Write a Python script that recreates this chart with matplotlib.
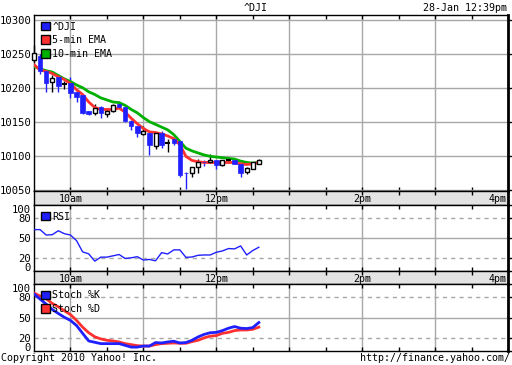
import numpy as np
import matplotlib
matplotlib.use("Agg")
import matplotlib.pyplot as plt
from matplotlib.patches import Patch

plt.rcParams['font.family'] = ['DejaVu Sans Mono']
plt.rcParams['font.size'] = 7.2

# 5-minute candles from 9:30 (minutes after open)
minutes = np.arange(38) * 5
opens = [10241, 10246, 10224, 10209, 10216, 10206, 10207, 10194, 10190, 10165,
         10163, 10172, 10162, 10165, 10176, 10171, 10151, 10143, 10132, 10134,
         10114, 10134, 10119, 10124, 10121, 10075, 10074, 10084, 10091, 10090,
         10093, 10086, 10094, 10094, 10087, 10076, 10081, 10088]
highs = [10263, 10250, 10226, 10219, 10218, 10210, 10216, 10196, 10191, 10166,
         10176, 10173, 10170, 10176, 10180, 10172, 10152, 10144, 10143, 10136,
         10135, 10137, 10124, 10128, 10122, 10076, 10084, 10095, 10093, 10103,
         10094, 10094, 10097, 10095, 10088, 10084, 10091, 10095]
lows = [10238, 10220, 10193, 10194, 10194, 10198, 10185, 10179, 10162, 10160,
        10160, 10156, 10157, 10164, 10170, 10150, 10138, 10128, 10131, 10101,
        10110, 10112, 10106, 10115, 10068, 10051, 10068, 10074, 10085, 10089,
        10081, 10085, 10089, 10087, 10068, 10073, 10080, 10087]
closes = [10251, 10224, 10207, 10215, 10203, 10206, 10192, 10187, 10163, 10162,
          10170, 10163, 10166, 10175, 10171, 10151, 10143, 10134, 10137, 10115,
          10134, 10115, 10119, 10119, 10072, 10074, 10084, 10091, 10090, 10093,
          10086, 10093, 10094, 10087, 10075, 10082, 10090, 10093]

ema5 = [10234, 10226, 10224, 10221, 10216, 10212, 10206, 10197, 10190, 10179,
        10171, 10168, 10168, 10168, 10170, 10164, 10155, 10147, 10140, 10135,
        10134, 10132, 10129, 10125, 10116, 10099, 10093, 10091, 10090, 10090,
        10090, 10090, 10090, 10090, 10088, 10087, 10088, 10090]
ema10 = [10231, 10228, 10225, 10223, 10218, 10213, 10209, 10204, 10200, 10194,
         10190, 10185, 10182, 10179, 10178, 10174, 10168, 10163, 10156, 10150,
         10146, 10142, 10138, 10131, 10121, 10111, 10107, 10104, 10101, 10099,
         10098, 10097, 10096, 10095, 10092, 10090, 10089, 10090]

rsi = [62.7, 62.7, 54.5, 55, 61, 56.5, 54.5, 46, 29, 26,
       15, 21, 21, 23, 25, 19, 20, 21.7, 16.6, 17.5,
       15.5, 27.8, 25.8, 32, 32, 20.7, 21.2, 23.8, 24.3, 24.3,
       28.4, 30.4, 34, 33.5, 38, 24.3, 31, 36]

stoch_k = [85, 77.5, 70, 62, 56, 50.3, 45.7, 38, 26.4, 15,
           13, 11, 11, 11, 11, 8.4, 5.8, 5.8, 7.4, 7.4,
           12.6, 12, 13.5, 14.6, 12, 12.6, 16, 21, 24.8, 27.3,
           27.8, 30.4, 34, 36.5, 34, 33.5, 35, 42.5]
stoch_d = [86.6, 82, 78, 71, 66, 60, 54.4, 45.7, 35.6, 27.3,
           21.2, 18, 16, 15, 13.5, 11, 9.5, 8, 7.4, 7.4,
           9.5, 11, 11.5, 12, 11.5, 11.5, 14, 16, 19.6, 22.2,
           23, 26.4, 27.8, 30.4, 31.4, 31.4, 32.4, 35.6]

price_ticks = [10050, 10100, 10150, 10200, 10250, 10300]
osc_ticks = [0, 20, 50, 80, 100]
hour_ticks = [30, 90, 150, 210, 270, 330]
half_ticks = [60, 120, 180, 240, 300, 360]
time_labels = ['10am', '12pm', '2pm', '4pm']
time_label_pos = [30, 150, 270, 390]

BLUE = '#2020ff'
RED = '#ff3030'
GREEN = '#00b000'
GRID = '#a8a8a8'

W, H = 512, 365
fig = plt.figure(figsize=(W / 100, H / 100), dpi=100)


def px_axes(top, bottom, left=34, right=508):
    return fig.add_axes([left / W, (H - bottom) / H, (right - left) / W, (bottom - top) / H])


def style_panel(ax):
    ax.set_xlim(0, 390)
    ax.set_xticks(hour_ticks)
    ax.set_xticks(half_ticks, minor=True)
    ax.tick_params(axis='x', which='both', direction='in', top=True, bottom=True,
                   labelbottom=False, length=3, width=1, color='black')
    ax.tick_params(axis='y', which='both', left=False, right=True, direction='out',
                   length=3, width=1, pad=-1, labelsize=7.6)
    ax.grid(axis='x', color=GRID, lw=1)
    for s in ax.spines.values():
        s.set_color('black')
        s.set_linewidth(1)
    ax.spines['right'].set_linewidth(2)
    ax.set_axisbelow(True)


def band(top, bottom):
    b = px_axes(top, bottom)
    b.set_facecolor('#e3e3e3')
    b.set_xlim(0, 390)
    b.set_ylim(0, 1)
    b.set_xticks(hour_ticks)
    b.set_xticks(half_ticks, minor=True)
    b.tick_params(axis='x', which='both', direction='in', top=True, bottom=False,
                  labelbottom=False, length=3, width=1)
    b.set_yticks([])
    for s in b.spines.values():
        s.set_linewidth(1)
    b.spines['right'].set_linewidth(2)
    for lab, pos in zip(time_labels, time_label_pos):
        ha = 'right' if pos == 390 else 'center'
        b.text(pos - (1 if pos == 390 else 0), 0.42, lab, ha=ha, va='center', fontsize=7.2)
    return b


def osc_panel(top, bottom):
    a = px_axes(top, bottom)
    style_panel(a)
    a.set_ylim(0, 100)
    a.set_yticks(osc_ticks)
    labels = a.set_yticklabels([str(t) for t in osc_ticks])
    labels[0].set_va('baseline')
    labels[-1].set_va('top')
    for lvl, ls in [(20, '--'), (50, '-'), (80, '--')]:
        if ls == '--':
            a.axhline(lvl, color=GRID, lw=1, ls=ls, dashes=(3, 3), zorder=1)
        else:
            a.axhline(lvl, color=GRID, lw=1, zorder=1)
    return a


legend_kw = dict(loc='upper left', frameon=False, handlelength=0.95, handleheight=0.95,
                 handletextpad=0.25, labelspacing=0.36, borderaxespad=0.45, borderpad=0.2,
                 fontsize=7.2)

# ---- price panel
ax = px_axes(15, 191)
style_panel(ax)
ax.set_ylim(10048, 10307)
ax.set_yticks(price_ticks)
ax.grid(axis='y', color=GRID, lw=1)

o = np.array(opens)
c = np.array(closes)
lo = np.array(lows)
hi = np.array(highs)
up = c > o
down = c < o
doji = c == o

ax.vlines(minutes[up | doji], lo[up | doji], hi[up | doji],
          color='black', lw=1, zorder=3, clip_on=False)
ax.vlines(minutes[down], lo[down], hi[down], color=BLUE, lw=1, zorder=3, clip_on=False)
ax.plot(minutes, ema10, color=GREEN, lw=2, zorder=4)
ax.plot(minutes, ema5, color=RED, lw=2, zorder=4)
ax.bar(minutes[down], (o - c)[down], bottom=c[down], width=3.7, color=BLUE,
       edgecolor=BLUE, lw=0.5, zorder=5, clip_on=False)
ax.bar(minutes[up], (c - o)[up], bottom=o[up], width=3.3, color='white',
       edgecolor='black', lw=1, zorder=5, clip_on=False)
ax.hlines(c[doji], minutes[doji] - 2, minutes[doji] + 2, color='black', lw=1.5, zorder=5)

leg = ax.legend(handles=[Patch(facecolor=BLUE, edgecolor='black', label='^DJI'),
                         Patch(facecolor=RED, edgecolor='black', label='5-min EMA'),
                         Patch(facecolor=GREEN, edgecolor='black', label='10-min EMA')],
                **legend_kw)
leg.set_zorder(6)

band(191, 205)

# ---- RSI panel
ax2 = osc_panel(205, 271)
ax2.plot(minutes, rsi, color=BLUE, lw=1, zorder=3)
ax2.legend(handles=[Patch(facecolor=BLUE, edgecolor='black', label='RSI')], **legend_kw)

band(271, 284)

# ---- Stochastic panel
ax3 = osc_panel(284, 351)
ax3.plot(minutes, stoch_d, color=RED, lw=2, zorder=3)
ax3.plot(minutes, stoch_k, color=BLUE, lw=2, zorder=4)
leg3 = ax3.legend(handles=[Patch(facecolor=BLUE, edgecolor='black', label='Stoch %K'),
                           Patch(facecolor=RED, edgecolor='black', label='Stoch %D')],
                  **legend_kw)
leg3.set_zorder(6)

# ---- header / footer text
fig.text(256 / W, 1 - 8 / H, '^DJI', ha='center', va='center', fontsize=7.2)
fig.text(507 / W, 1 - 8 / H, '28-Jan 12:39pm', ha='right', va='center', fontsize=7.2)
fig.text(1 / W, 1 - 358 / H, 'Copyright 2010 Yahoo! Inc.', ha='left', va='center', fontsize=7.2)
fig.text(510 / W, 1 - 358 / H, 'http://finance.yahoo.com/', ha='right', va='center', fontsize=7.2)

fig.savefig('out.png', dpi=100)
